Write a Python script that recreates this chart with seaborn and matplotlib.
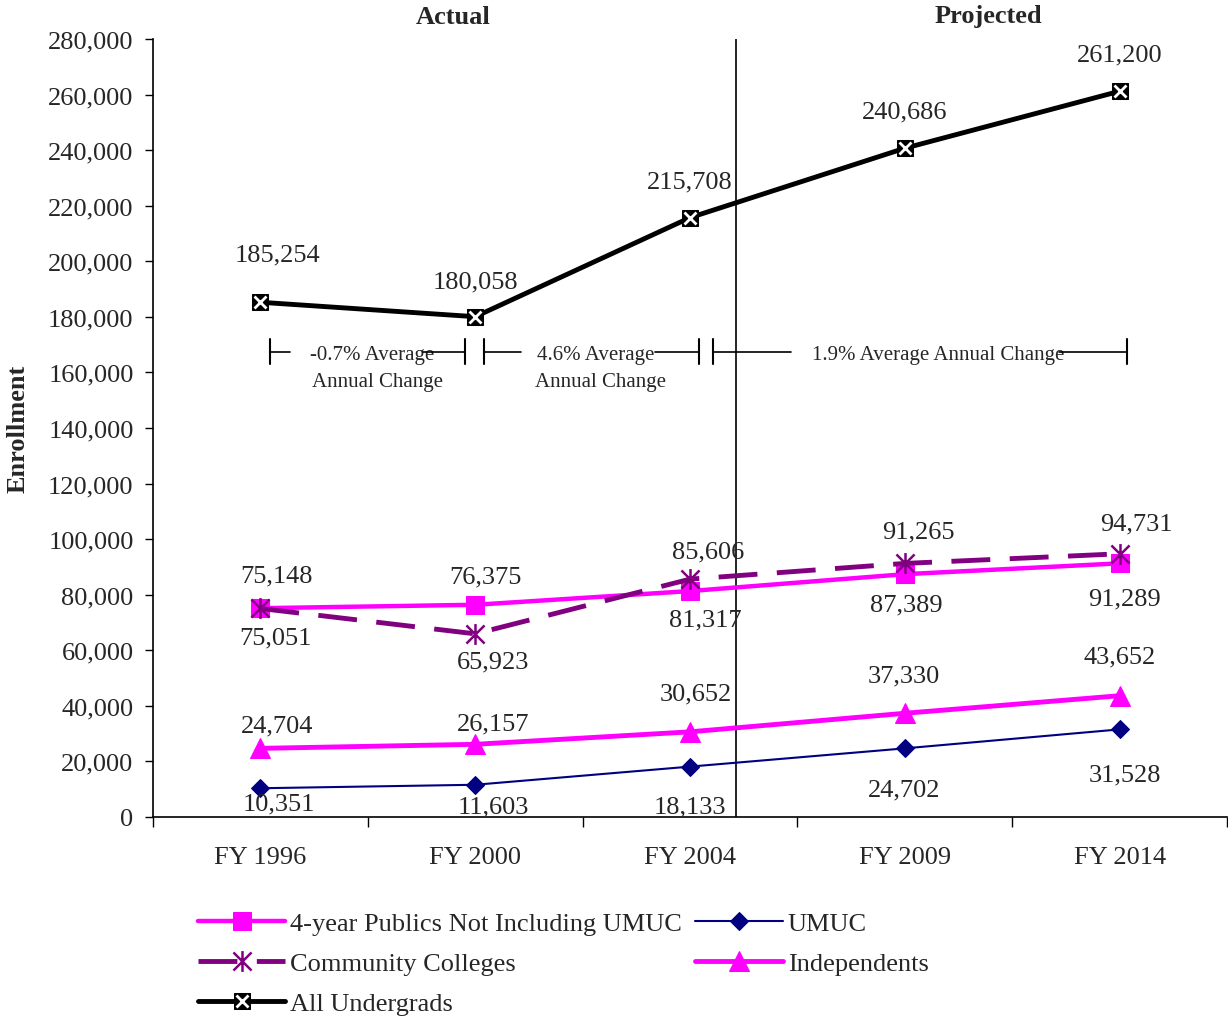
import numpy as np
import matplotlib
matplotlib.use("Agg")
import matplotlib.pyplot as plt
import seaborn as sns
from matplotlib.path import Path
from matplotlib.ticker import FuncFormatter, FixedLocator
from matplotlib.legend_handler import HandlerTuple

# Enrollment by fiscal year
years = ["FY 1996", "FY 2000", "FY 2004", "FY 2009", "FY 2014"]
publics = [75148, 76375, 81317, 87389, 91289]
umuc = [10351, 11603, 18133, 24702, 31528]
community = [75051, 65923, 85606, 91265, 94731]
independents = [24704, 26157, 30652, 37330, 43652]
all_undergrads = [185254, 180058, 215708, 240686, 261200]

# Average annual change notes
change_notes = ["-0.7% Average\nAnnual Change", "4.6% Average\nAnnual Change",
                "1.9% Average Annual Change"]

# Label offsets (pixels) from each point
off_all = [(17, 48), (0, 35), (0, 36), (0, 37), (0, 37)]
off_pub = [(16, 33), (10, 28), (15, -28), (2, -30), (5, -35)]
off_cc = [(15, -29), (18, -28), (18, 28), (14, 32), (17, 30)]
off_ind = [(17, 23), (18, 21), (6, 38), (-1, 38), (0, 39)]
off_umuc = [(18, -15), (18, -22), (0, -40), (-1, -41), (5, -45)]

sns.set_theme(style="ticks")
plt.rcParams["font.family"] = ["Liberation Serif", "DejaVu Serif"]
plt.rcParams["font.size"] = 19

W, H = 1228, 1020
fig = plt.figure(figsize=(W / 100, H / 100), dpi=100)
ax = fig.add_axes([153 / W, 1 - 818 / H, (1227 - 153) / W, (818 - 40) / H])
x = np.arange(len(years))

MAG = "#FF00FF"
NAVY = "#000080"
PURP = "#800080"

star = Path([(-1, -1), (1, 1), (-1, 1), (1, -1), (0, -1.15), (0, 1.15)],
            [Path.MOVETO, Path.LINETO, Path.MOVETO, Path.LINETO, Path.MOVETO, Path.LINETO])

sns.lineplot(x=x, y=publics, ax=ax, color=MAG, linewidth=3.2, marker="s",
             markersize=13, markeredgecolor=MAG, markerfacecolor=MAG,
             label="4-year Publics Not Including UMUC", zorder=4)
h_pub = ax.lines[-1]
sns.lineplot(x=x, y=umuc, ax=ax, color=NAVY, linewidth=1.5, marker="D",
             markersize=9, markeredgecolor=NAVY, markerfacecolor=NAVY,
             label="UMUC", zorder=4)
h_umuc = ax.lines[-1]
sns.lineplot(x=x, y=community, ax=ax, color=PURP, linewidth=3.5,
             linestyle=(0, (8, 4)), marker=star, markersize=15,
             markeredgecolor=PURP, markeredgewidth=1.8,
             label="Community Colleges", zorder=5)
h_cc = ax.lines[-1]
sns.lineplot(x=x, y=independents, ax=ax, color=MAG, linewidth=3.5, marker="^",
             markersize=14, markeredgecolor=MAG, markerfacecolor=MAG,
             label="Independents", zorder=4)
h_ind = ax.lines[-1]
sns.lineplot(x=x, y=all_undergrads, ax=ax, color="black", linewidth=3.5,
             marker="s", markersize=12, markeredgecolor="black",
             markerfacecolor="black", label="All Undergrads", zorder=4)
h_all = ax.lines[-1]
h_allx, = ax.plot(x, all_undergrads, linestyle="none", marker="x", markersize=9,
                  markeredgecolor="white", markeredgewidth=2, zorder=6)

if ax.get_legend() is not None:
    ax.get_legend().remove()

# Value labels
def put_labels(vals, offs):
    for xi, v, (dx, dy) in zip(x, vals, offs):
        ax.annotate(f"{v:,}", (xi, v), xytext=(dx, dy), textcoords="offset pixels",
                    ha="center", va="center", fontsize=19, zorder=7,
                    annotation_clip=False)

put_labels(all_undergrads, off_all)
put_labels(publics, off_pub)
put_labels(community, off_cc)
put_labels(independents, off_ind)
put_labels(umuc, off_umuc)

# Actual / projected divider
ax.axvline(2.216, color="black", linewidth=1.2, zorder=3)

# Change brackets
yb = 167500
cap = 4500
brackets = [
    (0.044, 0.951, [(0.044, 0.137), (0.756, 0.951)], (0.52, 0.545)),
    (1.040, 2.044, [(1.040, 1.212), (1.835, 2.044)], (1.56, 1.585)),
    (2.105, 4.035, [(2.105, 2.472), (3.719, 4.035)], (3.156, None)),
]
for (x0, x1, segs, tx), note in zip(brackets, change_notes):
    for s0, s1 in segs:
        ax.plot([s0, s1], [yb, yb], color="black", linewidth=1.2, zorder=3)
    for xc in (x0, x1):
        ax.plot([xc, xc], [yb - cap, yb + cap], color="black", linewidth=1.5, zorder=3)
    lines = note.split("\n")
    ax.text(tx[0], yb - 1000, lines[0], ha="center", va="center", fontsize=15, zorder=2)
    if len(lines) > 1:
        ax.text(tx[1], yb - 10800, lines[1], ha="center", va="center", fontsize=15, zorder=2)

# Axes formatting
ax.set_xlim(-0.5, 4.5)
ax.set_ylim(0, 280000)
ax.set_yticks(np.arange(0, 280001, 20000))
ax.yaxis.set_major_formatter(FuncFormatter(lambda v, p: f"{v:,.0f}"))
ax.set_xticks(x)
ax.set_xticklabels(years)
ax.xaxis.set_minor_locator(FixedLocator(np.arange(-0.5, 4.6, 1.0)))
ax.tick_params(axis="x", which="major", length=0, pad=21, labelsize=19)
ax.tick_params(axis="x", which="minor", length=7, width=1, direction="out", color="black")
ax.tick_params(axis="y", length=6, width=1, direction="out", pad=8, labelsize=19, color="black")
ax.set_xlabel("")
ax.set_ylabel("")
sns.despine(ax=ax)
for sp in ("left", "bottom"):
    ax.spines[sp].set_color("black")
    ax.spines[sp].set_linewidth(1.2)

fig.text(18 / W, 1 - 429 / H, "Enrollment", rotation=90, ha="center", va="center",
         fontsize=19, fontweight="bold")
fig.text(453 / W, 1 - 17 / H, "Actual", ha="center", va="center", fontsize=19,
         fontweight="bold")
fig.text(988 / W, 1 - 17 / H, "Projected", ha="center", va="center", fontsize=19,
         fontweight="bold")

handles = [h_pub, h_cc, (h_all, h_allx), h_umuc, h_ind]
labels = ["4-year Publics Not Including UMUC", "Community Colleges", "All Undergrads",
          "UMUC", "Independents"]
fig.legend(handles, labels, ncol=2, loc="upper left", frameon=False,
           bbox_to_anchor=(198 / W, 1 - 913 / H), bbox_transform=fig.transFigure,
           borderpad=0, borderaxespad=0, handlelength=3.3, handletextpad=0.2,
           columnspacing=0.5, labelspacing=0.62, fontsize=19, numpoints=1,
           handler_map={tuple: HandlerTuple(ndivide=1, pad=0)})

fig.savefig("out.png", dpi=100)
